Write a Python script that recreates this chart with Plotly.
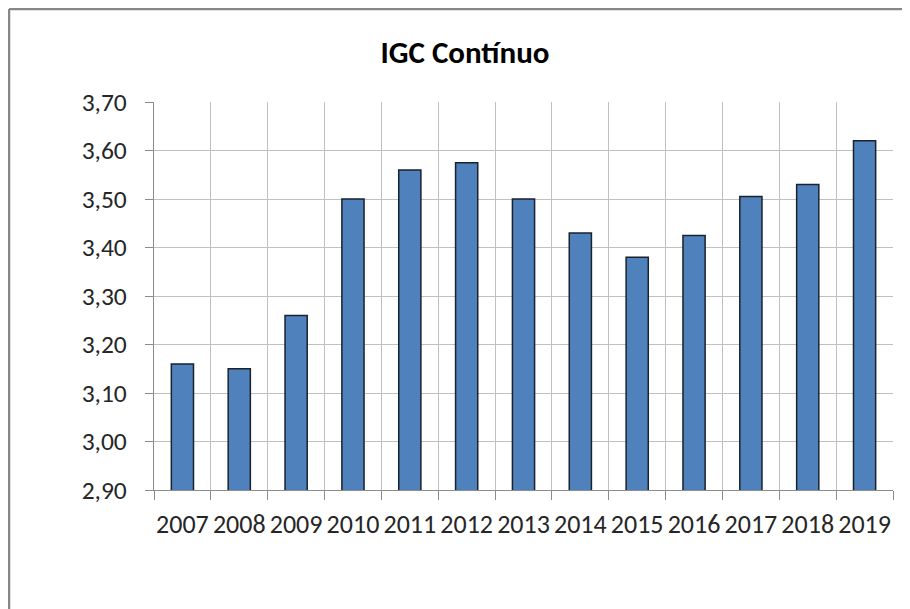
import plotly.graph_objects as go

years = ["2007", "2008", "2009", "2010", "2011", "2012", "2013",
         "2014", "2015", "2016", "2017", "2018", "2019"]
igc = [3.16, 3.15, 3.26, 3.50, 3.56, 3.575, 3.50,
       3.43, 3.38, 3.425, 3.505, 3.53, 3.62]
y_ticks = [2.90, 3.00, 3.10, 3.20, 3.30, 3.40, 3.50, 3.60, 3.70]

# page body has an 8px margin, so work in shifted coordinates
OFF = 8
W, H = 910 - OFF, 609 - OFF
L, R, T, B = 154 - OFF, 893 - OFF, 102 - OFF, 490 - OFF

fig = go.Figure()
fig.add_trace(go.Bar(
    x=years, y=igc, width=0.39,
    marker=dict(color="#4F81BD", line=dict(color="#1a222c", width=1.5)),
))

FONT = "Calibri, Carlito, Open Sans, sans-serif"

# chart-area border (top and left visible)
bpx = 9 - OFF
bx = (bpx - L) / (R - L)
by = 1 + (T - bpx) / (B - T)
fig.add_shape(type="line", xref="paper", yref="paper", x0=bx, x1=bx, y0=-1, y1=by,
              line=dict(color="#878787", width=2.5))
fig.add_shape(type="line", xref="paper", yref="paper", x0=bx, x1=2, y0=by, y1=by,
              line=dict(color="#878787", width=2.5))

fig.update_layout(
    width=W, height=H,
    margin=dict(l=L, r=W - R, t=T, b=H - B, autoexpand=False),
    paper_bgcolor="white", plot_bgcolor="white",
    separators=",.",
    showlegend=False,
    font=dict(family=FONT, color="#262626"),
    title=dict(text="<b>IGC Contínuo</b>", x=(465 - OFF) / W, xref="container", xanchor="center",
               y=1 - (52 - OFF) / H, yref="container", yanchor="middle",
               font=dict(family=FONT, size=31, color="#000000")),
)
fig.update_xaxes(
    type="category", tickson="boundaries", ticks="outside", ticklen=9,
    tickcolor="#8c8c8c", showgrid=True, gridcolor="#c0c0c0", gridwidth=1.2,
    showline=True, linecolor="#8c8c8c", linewidth=1.2, tickangle=0,
    tickfont=dict(size=26, color="#262626"), ticklabelstandoff=11,
)
fig.update_yaxes(
    range=[2.90, 3.70], tickvals=y_ticks, tickformat=".2f",
    ticks="outside", ticklen=8, tickcolor="#8c8c8c",
    showgrid=True, gridcolor="#c0c0c0", gridwidth=1.2,
    showline=True, linecolor="#8c8c8c", linewidth=1.2,
    tickfont=dict(size=25.5, color="#262626"), zeroline=False,
    ticklabelstandoff=13,
)

fig.write_html("out.html")
